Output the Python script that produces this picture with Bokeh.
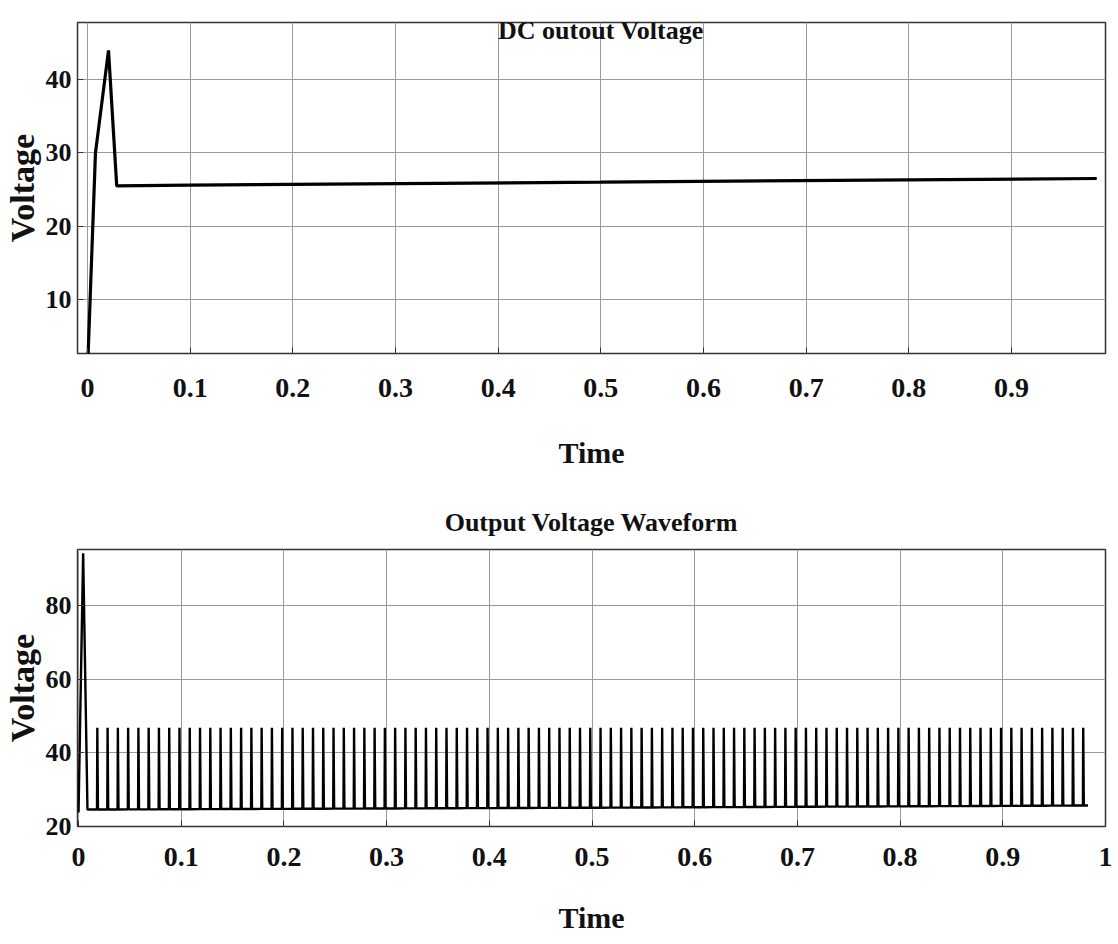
import math
import numpy as np
from bokeh.plotting import figure
from bokeh.models import Range1d, FixedTicker, Label, CustomJSTickFormatter
from bokeh.layouts import column
from bokeh.embed import file_html
from bokeh.resources import INLINE

# ---- Data: DC output voltage (top) ----
dc_time = [0.0, 0.0078, 0.0205, 0.0285, 0.1, 0.5, 0.983]
dc_volt = [0.0, 30.0, 44.0, 25.5, 25.6, 26.0, 26.5]

# ---- Data: Output voltage waveform (bottom) ----
start_time = [0.0, 0.0045, 0.0087]
start_volt = [23.8, 94.2, 24.6]
base_time = [0.0087, 0.5, 0.983]
base_volt = [24.6, 25.1, 25.7]
pulse_peak = 46.8
pulse_times = [
    0.018, 0.028, 0.038, 0.048, 0.058, 0.068, 0.078, 0.088, 0.098, 0.108,
    0.118, 0.128, 0.138, 0.148, 0.158, 0.168, 0.178, 0.188, 0.198, 0.208,
    0.218, 0.228, 0.238, 0.248, 0.258, 0.268, 0.278, 0.288, 0.298, 0.308,
    0.318, 0.328, 0.338, 0.348, 0.358, 0.368, 0.378, 0.388, 0.398, 0.408,
    0.418, 0.428, 0.438, 0.448, 0.458, 0.468, 0.478, 0.488, 0.498, 0.508,
    0.518, 0.528, 0.538, 0.548, 0.558, 0.568, 0.578, 0.588, 0.598, 0.608,
    0.618, 0.628, 0.638, 0.648, 0.658, 0.668, 0.678, 0.688, 0.698, 0.708,
    0.718, 0.728, 0.738, 0.748, 0.758, 0.768, 0.778, 0.788, 0.798, 0.808,
    0.818, 0.828, 0.838, 0.848, 0.858, 0.868, 0.878, 0.888, 0.898, 0.908,
    0.918, 0.928, 0.938, 0.948, 0.958, 0.968, 0.978,
]

top_xticks = [0, 0.1, 0.2, 0.3, 0.4, 0.5, 0.6, 0.7, 0.8, 0.9]
top_yticks = [10, 20, 30, 40]
bot_xticks = [0, 0.1, 0.2, 0.3, 0.4, 0.5, 0.6, 0.7, 0.8, 0.9, 1]
bot_yticks = [20, 40, 60, 80]

FONT = "Liberation Serif"
fmt = CustomJSTickFormatter(code="return tick.toString()")


def style(p, xticks, yticks, tick_standoff, label_standoff):
    p.xaxis.ticker = FixedTicker(ticks=xticks)
    p.yaxis.ticker = FixedTicker(ticks=yticks)
    p.xaxis.formatter = fmt
    p.yaxis.formatter = fmt
    for ax in (p.xaxis, p.yaxis):
        ax.axis_line_color = None
        ax.major_tick_in = 6
        ax.major_tick_out = 0
        ax.major_tick_line_color = "#333333"
        ax.minor_tick_line_color = None
        ax.major_label_text_font = FONT
        ax.major_label_text_font_style = "bold"
        ax.major_label_text_font_size = "28px"
        ax.major_label_text_color = "#111111"
    p.yaxis.major_label_text_font_size = "26px"
    p.yaxis.major_label_standoff = 6
    p.yaxis.axis_label = "Voltage"
    p.yaxis.axis_label_text_font = FONT
    p.yaxis.axis_label_text_font_style = "bold"
    p.yaxis.axis_label_text_font_size = "34px"
    p.yaxis.axis_label_text_color = "#111111"
    p.yaxis.axis_label_standoff = 2
    p.xaxis.major_label_standoff = tick_standoff
    p.xaxis.axis_label = "Time"
    p.xaxis.axis_label_text_font = FONT
    p.xaxis.axis_label_text_font_style = "bold"
    p.xaxis.axis_label_text_font_size = "30px"
    p.xaxis.axis_label_text_color = "#111111"
    p.xaxis.axis_label_standoff = label_standoff
    p.grid.grid_line_color = "#9a9a9a"
    p.grid.grid_line_width = 1
    p.grid.grid_line_alpha = 1.0
    p.outline_line_color = "#333333"
    p.outline_line_width = 1.5
    p.background_fill_color = "white"
    p.border_fill_color = "white"


# ---- Top figure ----
p1 = figure(width=1118, height=480, output_backend="svg", toolbar_location=None,
            x_range=Range1d(-0.0097, 0.9915), y_range=Range1d(2.6, 47.8),
            min_border_left=74, min_border_right=13, min_border_top=22,
            min_border_bottom=127)
style(p1, top_xticks, top_yticks, 25, 36)
p1.line(dc_time, dc_volt, line_color="black", line_width=3.2)
p1.add_layout(Label(x=0.5, y=46.7, text="DC outout Voltage", text_align="center",
                    text_baseline="middle", text_font=FONT, text_font_style="bold",
                    text_font_size="26px", text_color="#111111"))

# ---- Bottom figure ----
p2 = figure(width=1118, height=464, output_backend="svg", toolbar_location=None,
            x_range=Range1d(-0.001, 1.0), y_range=Range1d(20, 95.2),
            min_border_left=74, min_border_right=12, min_border_top=69,
            min_border_bottom=118)
style(p2, bot_xticks, bot_yticks, 21, 32)
p2.title.text = "Output Voltage Waveform"
p2.title.align = "center"
p2.title.text_font = FONT
p2.title.text_font_style = "bold"
p2.title.text_font_size = "26px"
p2.title.text_color = "#111111"
p2.title.standoff = 25

# build waveform polyline from data
wave_t = list(start_time)
wave_v = list(start_volt)
pb = np.interp(pulse_times, base_time, base_volt)
for t, b in zip(pulse_times, pb):
    wave_t += [t, t + 0.0003, t + 0.0009]
    wave_v += [b, pulse_peak, b]
wave_t.append(base_time[-1])
wave_v.append(base_volt[-1])
p2.line(wave_t, wave_v, line_color="black", line_width=2.4)

layout = column(p1, p2, spacing=0)
open("out.html", "w").write(file_html(layout, INLINE))
